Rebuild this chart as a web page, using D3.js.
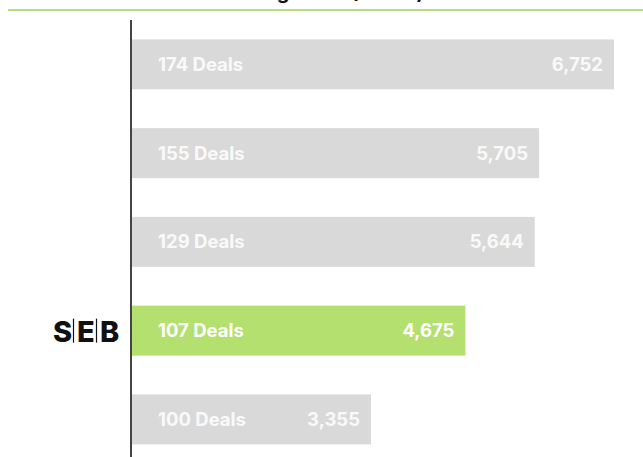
<!DOCTYPE html>
<html>
<head>
<meta charset="utf-8">
<script src="https://cdn.jsdelivr.net/npm/d3@7"></script>
<style>
  html, body { margin: 0; padding: 0; background: #fff; }
  svg { display: block; }
</style>
</head>
<body>
<svg id="chart" width="643" height="457"></svg>
<script>
// Bank ranking: deal counts and volumes
const banks = ["Bank A", "Bank B", "Bank C", "SEB", "Bank E"];
const volumes = [6752, 5705, 5644, 4675, 3355];
const deals = [174, 155, 129, 107, 100];
const highlight = "SEB";

const width = 643, height = 457;
const svg = d3.select("#chart");
const font = "Inter, 'Open Sans', sans-serif";

const margin = { left: 131, top: 39 };
const x = d3.scaleLinear().domain([0, 6752]).range([0, 483]);
const y = d3.scaleBand().domain(banks).range([margin.top - 19, margin.top - 19 + 88.75 * banks.length])
  .paddingInner(0.437).paddingOuter(0.2185);

// Title (runs off the top edge)
svg.append("text")
  .attr("x", 424).attr("y", -1)
  .attr("text-anchor", "end")
  .attr("font-family", font).attr("font-weight", 700).attr("font-size", 20)
  .attr("fill", "#111")
  .text("Deal Volume Ranking 2024 (EURm)");

// Green rule under the title
svg.append("line")
  .attr("x1", 8).attr("x2", width).attr("y1", 10).attr("y2", 10)
  .attr("stroke", "#b3e07a").attr("stroke-width", 2);

const data = banks.map((b, i) => ({ bank: b, volume: volumes[i], deals: deals[i] }));

const g = svg.append("g");

g.selectAll("rect.bar").data(data).join("rect")
  .attr("class", "bar")
  .attr("x", margin.left)
  .attr("y", d => y(d.bank))
  .attr("width", d => x(d.volume))
  .attr("height", y.bandwidth())
  .attr("fill", d => d.bank === highlight ? "#b3e06e" : "#d9d9d9");

g.selectAll("text.deals").data(data).join("text")
  .attr("class", "deals")
  .attr("x", margin.left + 27)
  .attr("y", d => y(d.bank) + y.bandwidth() / 2)
  .attr("dy", "0.35em")
  .attr("font-family", font).attr("font-weight", 700).attr("font-size", 18.5)
  .attr("fill", d => d.bank === highlight ? "#ffffff" : "#f9f9f9")
  .text(d => `${d.deals} Deals`);

g.selectAll("text.value").data(data).join("text")
  .attr("class", "value")
  .attr("x", d => margin.left + x(d.volume) - 11)
  .attr("y", d => y(d.bank) + y.bandwidth() / 2)
  .attr("dy", "0.35em")
  .attr("text-anchor", "end")
  .attr("font-family", font).attr("font-weight", 700).attr("font-size", 18.5)
  .attr("fill", d => d.bank === highlight ? "#ffffff" : "#f9f9f9")
  .text(d => d3.format(",")(d.volume));

// Vertical axis line
svg.append("line")
  .attr("x1", margin.left).attr("x2", margin.left)
  .attr("y1", 20).attr("y2", height)
  .attr("stroke", "#444").attr("stroke-width", 2);

// SEB logo beside the highlighted bar
const seb = y(highlight) + y.bandwidth() / 2;
const logo = svg.append("g").attr("transform", `translate(53, ${seb})`);
const letters = ["S", "E", "B"];
const letterX = [0, 24, 47];
logo.selectAll("text").data(letters).join("text")
  .attr("x", (d, i) => letterX[i])
  .attr("y", 11)
  .attr("font-family", "Inter, sans-serif").attr("font-weight", 800).attr("font-size", 29)
  .attr("fill", "#111")
  .text(d => d);
logo.selectAll("line").data([20.5, 43.5]).join("line")
  .attr("x1", d => d).attr("x2", d => d)
  .attr("y1", -12).attr("y2", 12)
  .attr("stroke", "#111").attr("stroke-width", 1.2);
</script>
</body>
</html>
